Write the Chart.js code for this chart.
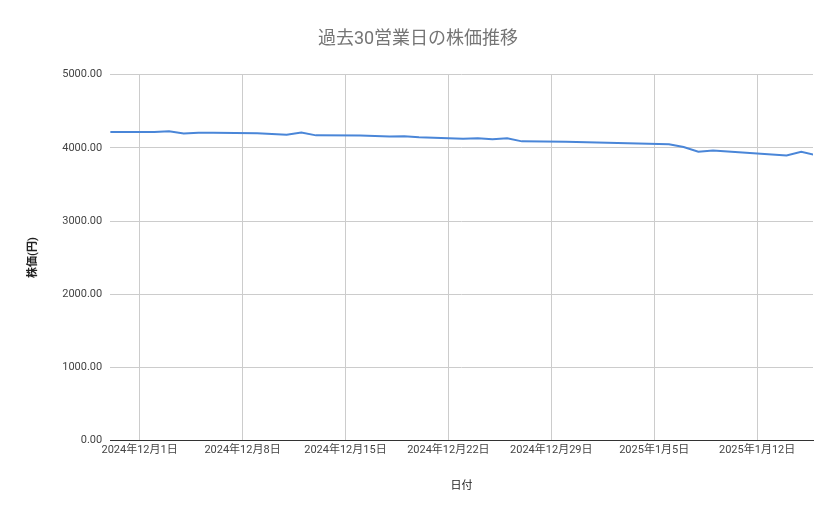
<!DOCTYPE html>
<html><head><meta charset="utf-8">
<script src="https://cdn.jsdelivr.net/npm/chart.js@4"></script>
<style>body{margin:0;background:#fff}#wrap{width:839px;height:519px}</style>
</head><body><div id="wrap"><canvas id="c"></canvas></div>
<script>
// 日付は12月1日からの経過日数
const days = [-2,1,2,3,4,5,8,9,10,11,12,15,16,17,18,19,22,23,24,25,26,29,36,37,38,39,40,44,45,46];
const prices = [4215,4215,4225,4195,4205,4205,4200,4190,4180,4210,4170,4168,4160,4155,4158,4145,4122,4132,4118,4130,4088,4082,4048,4010,3945,3962,3948,3895,3945,3900];
const tickDays = [0,7,14,21,28,35,42];

function dayLabel(d) {
  const dt = new Date(2024, 11, 1 + d);
  return dt.getFullYear() + '年' + (dt.getMonth() + 1) + '月' + dt.getDate() + '日';
}

Chart.defaults.font.family = 'Roboto, "Noto Sans CJK JP", sans-serif';
Chart.defaults.color = '#444';

new Chart(document.getElementById('c'), {
  type: 'line',
  data: {
    datasets: [{
      data: days.map((d, i) => ({x: d, y: prices[i]})),
      borderColor: '#4a86d8',
      borderWidth: 2,
      pointRadius: 0,
      tension: 0
    }]
  },
  options: {
    responsive: true,
    maintainAspectRatio: false,
    animation: false,
    layout: {padding: {left: 23, right: 26, top: 15, bottom: 22}},
    plugins: {
      legend: {display: false},
      title: {display: true, text: '過去30営業日の株価推移', color: '#757575', font: {size: 18, weight: 'normal'}, padding: {top: 14, bottom: 24}}
    },
    scales: {
      x: {
        type: 'linear', min: -2, max: 45.8,
        afterBuildTicks: s => { s.ticks = tickDays.map(v => ({value: v})); },
        ticks: {callback: v => dayLabel(v), maxRotation: 0, font: {size: 11}, color: '#444', autoSkip: false},
        grid: {color: '#ccc', drawTicks: false},
        border: {color: '#333'},
        title: {display: true, text: '日付', font: {size: 11}, color: '#222', padding: {top: 20}}
      },
      y: {
        min: 0, max: 5000,
        ticks: {stepSize: 1000, callback: v => v.toFixed(2), font: {size: 11}, color: '#444', padding: 8},
        grid: {color: '#ccc', drawTicks: false},
        border: {display: false},
        title: {display: true, text: '株価(円)', font: {size: 11, weight: 'bold'}, color: '#222', padding: {bottom: 14}}
      }
    }
  }
});
</script></body></html>
